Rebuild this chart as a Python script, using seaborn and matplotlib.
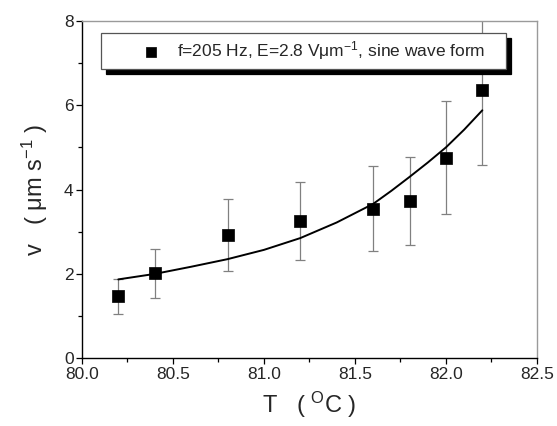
import numpy as np
import pandas as pd
import matplotlib
matplotlib.use('Agg')
import matplotlib.pyplot as plt
import seaborn as sns
from matplotlib.ticker import MultipleLocator, FormatStrFormatter

# measured points
temp = [80.2, 80.4, 80.8, 81.2, 81.6, 81.8, 82.0, 82.2]
vel = [1.47, 2.01, 2.93, 3.26, 3.55, 3.73, 4.75, 6.37]
vel_err = [0.41, 0.57, 0.85, 0.93, 1.00, 1.05, 1.34, 1.79]

# fitted curve
fit_temp = [80.2, 80.4, 80.6, 80.8, 81.0, 81.2, 81.4, 81.6, 81.7, 81.8, 81.9, 82.0, 82.1, 82.2]
fit_vel = [1.87, 2.00, 2.17, 2.35, 2.57, 2.85, 3.22, 3.66, 3.97, 4.30, 4.64, 5.00, 5.42, 5.88]

legend_label = 'f=205 Hz, E=2.8 V\u03bcm$^{-1}$, sine wave form'

sns.set_style('ticks')
plt.rcParams['font.family'] = ['Liberation Sans', 'DejaVu Sans']
plt.rcParams['mathtext.fontset'] = 'custom'
plt.rcParams['mathtext.rm'] = 'Liberation Sans'
plt.rcParams['mathtext.it'] = 'Liberation Sans:italic'
plt.rcParams['mathtext.default'] = 'regular'

df = pd.DataFrame({'T': temp, 'v': vel, 'err': vel_err})
fit = pd.DataFrame({'T': fit_temp, 'v': fit_vel})

fig, ax = plt.subplots(figsize=(5.57, 4.26), dpi=100)
fig.subplots_adjust(left=0.147, right=0.964, bottom=0.159, top=0.951)

ax.errorbar(df['T'], df['v'], yerr=df['err'], fmt='none', ecolor='#808080',
            elinewidth=0.9, capsize=3.5, capthick=0.9, zorder=2)
sns.lineplot(data=fit, x='T', y='v', color='black', lw=1.4, ax=ax, zorder=3)
sns.scatterplot(data=df, x='T', y='v', marker='s', s=80, color='black',
                edgecolor='black', linewidth=0.5, label=legend_label, ax=ax, zorder=4)

ax.set_xlim(80.0, 82.5)
ax.set_ylim(0, 8)
ax.xaxis.set_major_locator(MultipleLocator(0.5))
ax.xaxis.set_minor_locator(MultipleLocator(0.25))
ax.xaxis.set_major_formatter(FormatStrFormatter('%.1f'))
ax.yaxis.set_major_locator(MultipleLocator(2))
ax.yaxis.set_minor_locator(MultipleLocator(1))
ax.tick_params(which='major', direction='out', length=4, width=0.9, labelsize=12.5,
               color='black', pad=2)
ax.tick_params(which='minor', direction='out', length=3, width=0.9, color='black')

for side in ['left', 'bottom']:
    ax.spines[side].set_color('black')
    ax.spines[side].set_linewidth(1.0)
for side in ['top', 'right']:
    ax.spines[side].set_visible(True)
    ax.spines[side].set_color('#9a9a9a')
    ax.spines[side].set_linewidth(1.0)

ax.set_xlabel('T   ( $^{O}$C )', fontsize=17, labelpad=6)
ax.set_ylabel('v   ( \u03bcm s$^{-1}$ )', fontsize=17, labelpad=10)

handles, labels = ax.get_legend_handles_labels()
leg = ax.legend(handles[-1:], labels[-1:], loc='upper left',
                bbox_to_anchor=(0.041, 0.8637, 0.892, 0.099), mode='expand',
                fontsize=12.5, frameon=True, fancybox=False, framealpha=1,
                edgecolor='#555555', borderpad=0.35, handlelength=5.1,
                handletextpad=-1.05, markerscale=0.85, borderaxespad=0,
                shadow={'ox': 3.6, 'oy': -3.6, 'color': 'black', 'alpha': 1})
leg.get_frame().set_linewidth(0.9)

fig.savefig('out.png', dpi=100)
